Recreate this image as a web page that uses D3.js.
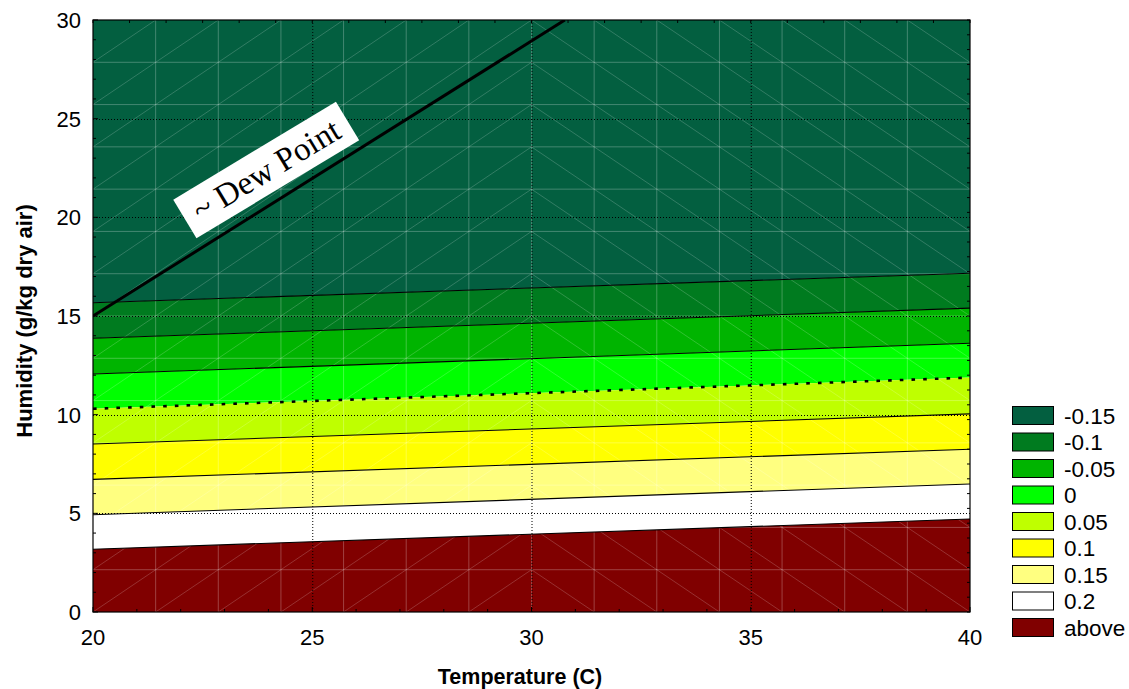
<!DOCTYPE html>
<html>
<head>
<meta charset="utf-8">
<script src="https://cdn.jsdelivr.net/npm/d3@7"></script>
<style>
  html, body { margin: 0; padding: 0; background: #fff; }
  svg { display: block; font-family: "Liberation Sans", Arial, sans-serif; }
</style>
</head>
<body>
<svg id="chart" width="1129" height="689"></svg>
<script>
// Response surface over temperature / humidity, drawn as filled contour bands.
const bandLabels = ["-0.15", "-0.1", "-0.05", "0", "0.05", "0.1", "0.15", "0.2", "above"];
const bandColors = ["#035f40", "#007b1f", "#00b400", "#00ff00", "#bfff00", "#ffff00", "#ffff80", "#ffffff", "#800000"];
// Contour boundaries (humidity) between consecutive bands, top to bottom,
// evaluated at the two ends of the temperature range.
const tempRange = [20, 40];
const contourAt20 = [15.67, 13.87, 12.06, 10.30, 8.51, 6.72, 4.93, 3.18];
const contourAt40 = [17.17, 15.40, 13.62, 11.88, 10.04, 8.25, 6.49, 4.71];
const zeroContourIndex = 3; // boundary between "0" and "0.05" is drawn dotted
const humidityRange = [0, 30];
const xTicks = [20, 25, 30, 35, 40];
const yTicks = [0, 5, 10, 15, 20, 25, 30];
// Approximate dew point line (temperature, humidity)
const dewPoint = [[20, 15], [30.76, 30]];
const dewLabel = { text: "~ Dew Point", t: 23.95, h: 22.4 };

const svg = d3.select("#chart");
const M = { left: 93, right: 970, top: 20, bottom: 612 };
const x = d3.scaleLinear().domain(tempRange).range([M.left, M.right]);
const y = d3.scaleLinear().domain(humidityRange).range([M.bottom, M.top]);

svg.append("defs").append("clipPath").attr("id", "plotClip")
  .append("rect").attr("x", M.left).attr("y", M.top)
  .attr("width", M.right - M.left).attr("height", M.bottom - M.top);

const plot = svg.append("g").attr("clip-path", "url(#plotClip)");

// Filled bands
const upper = i => i === 0 ? [humidityRange[1], humidityRange[1]] : [contourAt20[i - 1], contourAt40[i - 1]];
const lower = i => i === bandLabels.length - 1 ? [humidityRange[0], humidityRange[0]] : [contourAt20[i], contourAt40[i]];
const area = d3.area().x(d => x(d.t)).y0(d => y(d.lo)).y1(d => y(d.hi));
plot.selectAll("path.band").data(bandLabels).join("path")
  .attr("class", "band")
  .attr("fill", (d, i) => bandColors[i])
  .attr("d", (d, i) => {
    const u = upper(i), l = lower(i);
    return area([{ t: tempRange[0], hi: u[0], lo: l[0] }, { t: tempRange[1], hi: u[1], lo: l[1] }]);
  });

// Interpolation mesh (14 x 14 cells with diagonals)
const nCells = 14;
const mx = d3.range(nCells + 1).map(k => tempRange[0] + k * (tempRange[1] - tempRange[0]) / nCells);
const my = d3.range(nCells + 1).map(k => humidityRange[0] + k * (humidityRange[1] - humidityRange[0]) / nCells);
const mesh = plot.append("g").attr("fill", "none").attr("stroke", "#fff").attr("stroke-width", 0.8);
mesh.selectAll("line.mv").data(mx.slice(1, -1)).join("line")
  .attr("x1", d => x(d)).attr("x2", d => x(d)).attr("y1", M.top).attr("y2", M.bottom)
  .attr("stroke-opacity", 0.32);
mesh.selectAll("line.mh").data(my.slice(1, -1)).join("line")
  .attr("y1", d => y(d)).attr("y2", d => y(d)).attr("x1", M.left).attr("x2", M.right)
  .attr("stroke-opacity", 0.32);
const diagonals = [];
for (let i = 0; i < nCells; i++) {
  for (let j = 0; j < nCells; j++) {
    const rising = mx[i] < 30;
    diagonals.push(rising
      ? [mx[i], my[j], mx[i + 1], my[j + 1]]
      : [mx[i], my[j + 1], mx[i + 1], my[j]]);
  }
}
mesh.selectAll("line.md").data(diagonals).join("line")
  .attr("x1", d => x(d[0])).attr("y1", d => y(d[1]))
  .attr("x2", d => x(d[2])).attr("y2", d => y(d[3]))
  .attr("stroke-opacity", 0.24);

// Dotted major grid
const grid = plot.append("g").attr("stroke", "#000").attr("stroke-width", 1).attr("stroke-dasharray", "1,2");
grid.selectAll("line.gx").data(xTicks.slice(1, -1)).join("line")
  .attr("x1", d => x(d) + 0.5).attr("x2", d => x(d) + 0.5).attr("y1", M.top).attr("y2", M.bottom);
grid.selectAll("line.gy").data(yTicks.slice(1, -1)).join("line")
  .attr("y1", d => Math.round(y(d)) + 0.5).attr("y2", d => Math.round(y(d)) + 0.5).attr("x1", M.left).attr("x2", M.right);

// Contour lines
const line = d3.line().x(d => x(d[0])).y(d => y(d[1]));
plot.selectAll("path.contour").data(contourAt20).join("path")
  .attr("class", "contour")
  .attr("fill", "none")
  .attr("stroke", "#000")
  .attr("stroke-width", (d, i) => i === zeroContourIndex ? 2.6 : 1.1)
  .attr("stroke-dasharray", (d, i) => i === zeroContourIndex ? "3.6,8.1" : null)
  .attr("d", (d, i) => line([[tempRange[0], contourAt20[i]], [tempRange[1], contourAt40[i]]]));

// Dew point line
plot.append("path").attr("fill", "none").attr("stroke", "#000").attr("stroke-width", 3)
  .attr("d", line(dewPoint));

// Dew point label on a white box, aligned with the line
const ang = Math.atan2(y(dewPoint[1][1]) - y(dewPoint[0][1]), x(dewPoint[1][0]) - x(dewPoint[0][0])) * 180 / Math.PI;
const lab = plot.append("g")
  .attr("transform", `translate(${x(dewLabel.t)},${y(dewLabel.h)}) rotate(${ang + 1})`);
lab.append("rect").attr("x", -95).attr("y", -22.5).attr("width", 190).attr("height", 45).attr("fill", "#fff");
lab.append("text").attr("text-anchor", "middle").attr("y", 11)
  .attr("font-family", "'Liberation Serif', 'Times New Roman', serif")
  .attr("font-size", 33).attr("fill", "#000").text(dewLabel.text);

// Frame
svg.append("rect").attr("x", M.left).attr("y", M.top)
  .attr("width", M.right - M.left).attr("height", M.bottom - M.top)
  .attr("fill", "none").attr("stroke", "#000").attr("stroke-width", 1.2);

// Inward ticks
const ticks = svg.append("g").attr("stroke", "#000").attr("stroke-width", 1);
const minorX = d3.range(tempRange[0], tempRange[1] + 0.001, 1);
const minorY = d3.range(humidityRange[0], humidityRange[1] + 0.001, 1);
ticks.selectAll("line.bx").data(minorX).join("line")
  .attr("x1", d => x(d)).attr("x2", d => x(d))
  .attr("y1", M.bottom).attr("y2", d => M.bottom - (xTicks.includes(d) ? 5 : 3));
ticks.selectAll("line.ly").data(minorY).join("line")
  .attr("y1", d => y(d)).attr("y2", d => y(d))
  .attr("x1", M.left).attr("x2", d => M.left + (yTicks.includes(d) ? 5 : 3));
const topT = d3.range(0, 25).map(k => M.left + k * (M.right - M.left) / 24);
ticks.selectAll("line.tx").data(topT).join("line")
  .attr("x1", d => d).attr("x2", d => d).attr("y1", M.top).attr("y2", M.top + 3);
const rightT = d3.range(0, 41).map(k => M.top + k * (M.bottom - M.top) / 40);
ticks.selectAll("line.ry").data(rightT).join("line")
  .attr("y1", d => d).attr("y2", d => d).attr("x1", M.right).attr("x2", M.right - 3);

// Tick labels
svg.append("g").selectAll("text").data(xTicks).join("text")
  .attr("x", d => x(d)).attr("y", 645).attr("text-anchor", "middle")
  .attr("font-size", 22).attr("fill", "#000").text(d => d);
svg.append("g").selectAll("text").data(yTicks).join("text")
  .attr("x", 81).attr("y", d => y(d) + 8).attr("text-anchor", "end")
  .attr("font-size", 22).attr("fill", "#000").text(d => d);

// Axis titles
svg.append("text").attr("x", 520).attr("y", 684).attr("text-anchor", "middle")
  .attr("font-size", 21.5).attr("font-weight", "bold").attr("fill", "#000")
  .text("Temperature (C)");
svg.append("text").attr("transform", "translate(32,321) rotate(-90)").attr("text-anchor", "middle")
  .attr("font-size", 22).attr("font-weight", "bold").attr("fill", "#000")
  .text("Humidity (g/kg dry air)");

// Legend
const legend = svg.append("g").attr("transform", "translate(1012,406)");
const items = legend.selectAll("g").data(bandLabels).join("g")
  .attr("transform", (d, i) => `translate(0,${i * 26.5})`);
items.append("rect").attr("x", 0.5).attr("y", 0.5).attr("width", 41).attr("height", 18)
  .attr("fill", (d, i) => bandColors[i]).attr("stroke", "#000").attr("stroke-width", 1);
items.append("text").attr("x", 52).attr("y", 17.5).attr("font-size", 22.5).attr("fill", "#000").text(d => d);
</script>
</body>
</html>
